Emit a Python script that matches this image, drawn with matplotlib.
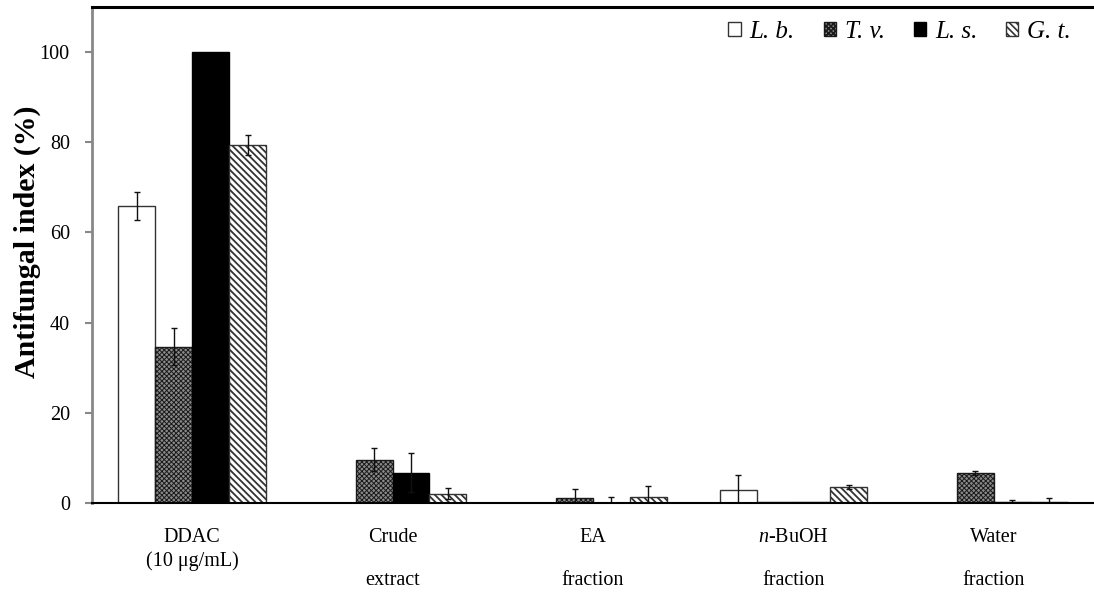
import numpy as np
import matplotlib
matplotlib.use("Agg")
import matplotlib.pyplot as plt

plt.rcParams['font.family'] = ['Liberation Serif', 'DejaVu Serif']
plt.rcParams['mathtext.fontset'] = 'custom'
plt.rcParams['mathtext.rm'] = 'Liberation Serif'
plt.rcParams['mathtext.it'] = 'Liberation Serif:italic'
plt.rcParams['hatch.linewidth'] = 1.2

# ---- data ----
categories = ["DDAC\n(10 μg/mL)", "Crude\n\nextract", "EA\n\nfraction",
              "$\\mathit{n}$-BuOH\n\nfraction", "Water\n\nfraction"]
series_names = ["L. b.", "T. v.", "L. s.", "G. t."]
lb = [65.8, 0.0, 0.0, 2.9, 0.0]
lb_err = [3.1, 0.0, 0.0, 3.2, 0.0]
tv = [34.7, 9.6, 1.1, 0.2, 6.7]
tv_err = [4.1, 2.6, 2.0, 0.0, 0.5]
ls = [100.0, 6.7, 0.0, 0.3, 0.2]
ls_err = [0.0, 4.3, 1.3, 0.0, 0.5]
gt = [79.4, 2.1, 1.3, 3.5, 0.3]
gt_err = [2.2, 1.2, 2.4, 0.5, 0.7]
yticks = [0, 20, 40, 60, 80, 100]

values = [lb, tv, ls, gt]
errors = [lb_err, tv_err, ls_err, gt_err]
styles = [
    dict(facecolor='white', edgecolor='#333333', hatch=None),
    dict(facecolor='#8a8a8a', edgecolor='#1a1a1a', hatch='xxxxxxx'),
    dict(facecolor='black', edgecolor='black', hatch=None),
    dict(facecolor='white', edgecolor='#333333', hatch='\\\\\\\\\\'),
]
hatch_lw = [1.0, 0.7, 1.0, 1.3]

fig = plt.figure(figsize=(10.94, 5.92), dpi=100)
ax = fig.add_axes([92/1094, 1-503/592, 1-92/1094, (503-7)/592])

x = np.arange(len(categories))
w = 0.184
for j in range(4):
    pos = x + (j - 1.5) * w
    bars = ax.bar(pos, values[j], width=w, linewidth=1.0, label=series_names[j],
                  zorder=2, **styles[j])
    for b in bars:
        if hasattr(b, 'set_hatch_linewidth'):
            b.set_hatch_linewidth(hatch_lw[j])
    err = np.array(errors[j])
    m = err > 0
    ax.errorbar(pos[m], np.array(values[j])[m], yerr=err[m], fmt='none',
                ecolor='#111111', elinewidth=1.0, capsize=2.3, capthick=1.0,
                zorder=3)

ax.set_xlim(-0.5, len(categories) - 0.5)
ax.set_ylim(0, 110)
ax.set_yticks(yticks)
ax.set_xticks(x)
ax.set_xticklabels(categories, fontsize=14.5)
for i, lbl in enumerate(ax.get_xticklabels()):
    lbl.set_linespacing(1.3 if i == 0 else 1.18)
ax.tick_params(axis='x', length=0, pad=18)
ax.tick_params(axis='y', length=5, width=1.5, color='#888888', pad=11,
               labelsize=14.5, direction='out')

ax.spines['right'].set_visible(False)
ax.spines['left'].set_color('#888888')
ax.spines['left'].set_linewidth(2)
ax.spines['top'].set_color('black')
ax.spines['top'].set_linewidth(2.2)
ax.spines['bottom'].set_color('black')
ax.spines['bottom'].set_linewidth(1.5)
ax.spines['bottom'].set_zorder(4)

ax.set_ylabel("Antifungal index (%)", fontsize=21.5, fontweight='bold', va='center')
ax.yaxis.set_label_coords((27-92)/1002, 0.526)

leg = ax.legend(loc='center right', bbox_to_anchor=(0.977, 0.95), ncol=4,
                frameon=False, prop={'style': 'italic', 'size': 18},
                handlelength=0.5, handleheight=0.5, handletextpad=0.35,
                columnspacing=1.15, borderpad=0, borderaxespad=0)

fig.savefig("out.png", dpi=100)
